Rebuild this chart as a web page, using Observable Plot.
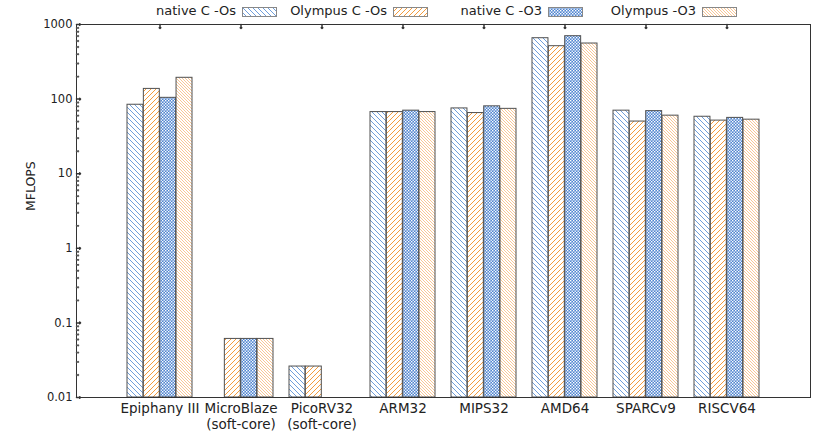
<!DOCTYPE html>
<html><head><meta charset="utf-8">
<script src="https://cdn.jsdelivr.net/npm/d3@7"></script>
<script src="https://cdn.jsdelivr.net/npm/@observablehq/plot@0.6"></script>
<style>
body{margin:0;background:#fff;font-family:"DejaVu Sans",Verdana,sans-serif;}
#wrap{position:relative;width:822px;height:434px;overflow:hidden;}
#legend{position:relative;height:10px;z-index:2;}
.lt{position:absolute;top:3px;font-size:13px;color:#222;white-space:nowrap;text-align:right;}
.sw{position:absolute;top:7px;}
</style></head><body>
<svg width="0" height="0" style="position:absolute">
<defs>
<pattern id="pNOs" patternUnits="userSpaceOnUse" width="5" height="5">
<rect width="5" height="5" fill="#fff"/>
<path d="M0,0L5,5M-1,4L1,6M4,-1L6,1" stroke="#6f9edb" stroke-width="1"/>
</pattern>
<pattern id="pOOs" patternUnits="userSpaceOnUse" width="5" height="5">
<rect width="5" height="5" fill="#fff"/>
<path d="M0,5L5,0M-1,1L1,-1M4,6L6,4" stroke="#f39c3e" stroke-width="1"/>
</pattern>
<pattern id="pNO3" patternUnits="userSpaceOnUse" width="3" height="3">
<rect width="3" height="3" fill="#5085d0"/>
<rect x="0" y="0" width="1.4" height="1.4" fill="#fff"/>
<rect x="1.5" y="1.5" width="1.4" height="1.4" fill="#fff"/>
</pattern>
<pattern id="pOO3" patternUnits="userSpaceOnUse" width="3" height="3">
<rect width="3" height="3" fill="#fff"/>
<path d="M0,0L3,3M-1,2L1,4M2,-1L4,1" stroke="#f7c08a" stroke-width="0.9"/>
</pattern>
</defs></svg>
<div id="wrap"><div id="legend"></div><div id="chart"></div></div>
<script>
const categories = ["Epiphany III","MicroBlaze","PicoRV32","ARM32","MIPS32","AMD64","SPARCv9","RISCV64"];
const tickLabels = ["Epiphany III","MicroBlaze\n(soft-core)","PicoRV32\n(soft-core)","ARM32","MIPS32","AMD64","SPARCv9","RISCV64"];
const seriesNames = ["native C -Os","Olympus C -Os","native C -O3","Olympus -O3"];
const nativeOs  = [84, null, 0.026, 67, 75, 655, 70, 58];
const olympusOs = [137, 0.061, 0.026, 67, 65, 512, 50, 51.5];
const nativeO3  = [104, 0.061, null, 70, 80, 697, 69, 56];
const olympusO3 = [193, 0.061, null, 67, 74, 556, 60, 53];
const yTicks = [0.01, 0.1, 1, 10, 100, 1000];
const yTickLabels = ["0.01", "0.1", "1", "10", "100", "1000"];

const seriesValues = [nativeOs, olympusOs, nativeO3, olympusO3];
const patterns = ["pNOs", "pOOs", "pNO3", "pOO3"];

// legend
const legendPos = [242, 393, 548, 702];
const leg = document.getElementById("legend");
seriesNames.forEach((name, i) => {
  const t = document.createElement("div");
  t.className = "lt";
  t.textContent = name;
  t.style.right = (822 - legendPos[i] + 6) + "px";
  leg.appendChild(t);
  const s = document.createElementNS("http://www.w3.org/2000/svg", "svg");
  s.setAttribute("class", "sw");
  s.setAttribute("width", 36); s.setAttribute("height", 11);
  s.style.left = legendPos[i] + "px";
  s.innerHTML = `<rect x="0.5" y="0.5" width="34" height="9" fill="url(#${patterns[i]})" stroke="#888" stroke-width="1"/>`;
  leg.appendChild(s);
});

const width = 822, height = 424, marginLeft = 76, marginRight = 12, marginTop = 14, marginBottom = 37;
const pInner = 0.2, pOuter = 0.59;
const step = (width - marginLeft - marginRight) / (categories.length - pInner + 2 * pOuter);
const bw = step * (1 - pInner);
const q = bw / 4;

const minorTicks = [];
[0.01, 0.1, 1, 10, 100].forEach(d => { for (let k = 2; k <= 9; k++) minorTicks.push(d * k); });

const barMarks = seriesValues.map((vals, i) => {
  const rows = categories.map((c, j) => ({cat: c, v: vals[j]})).filter(r => r.v != null);
  return Plot.barY(rows, {
    x: "cat", y1: 0.01, y2: "v",
    insetLeft: i * q, insetRight: (3 - i) * q,
    fill: `url(#${patterns[i]})`, stroke: "#505050", strokeWidth: 1
  });
});

const chart = Plot.plot({
  width, height, marginLeft, marginRight, marginTop, marginBottom,
  style: {fontFamily: "DejaVu Sans, Verdana, sans-serif", color: "#222", background: "transparent"},
  x: {type: "band", domain: categories, paddingInner: pInner, paddingOuter: pOuter, axis: null, label: null},
  y: {type: "log", domain: [0.01, 1000], axis: null, label: null},
  marks: [
    ...barMarks,
    Plot.frame({stroke: "#333", strokeWidth: 1}),
    Plot.vector(yTicks, {y: d => d, frameAnchor: "left", rotate: 90, length: 4, anchor: "start", stroke: "#333"}),
    Plot.vector(minorTicks, {y: d => d, frameAnchor: "left", rotate: 90, length: 2, anchor: "start", stroke: "#555"}),
    Plot.vector(categories, {x: d => d, frameAnchor: "top", rotate: 180, length: 4, anchor: "start", stroke: "#333"}),
    Plot.axisY(yTicks, {tickSize: 0, tickPadding: 4, fontSize: 11.5, label: null, tickFormat: d => yTickLabels[yTicks.indexOf(d)]}),
    Plot.axisX(categories, {tickSize: 0, tickPadding: 4, fontSize: 13.5, lineHeight: 1.2, label: null, tickFormat: d => tickLabels[categories.indexOf(d)]}),
    Plot.text(["MFLOPS"], {frameAnchor: "left", dx: -46, dy: 0, rotate: -90, text: d => d, fontSize: 12.5})
  ]
});
document.getElementById("chart").appendChild(chart);
</script>
</body></html>
